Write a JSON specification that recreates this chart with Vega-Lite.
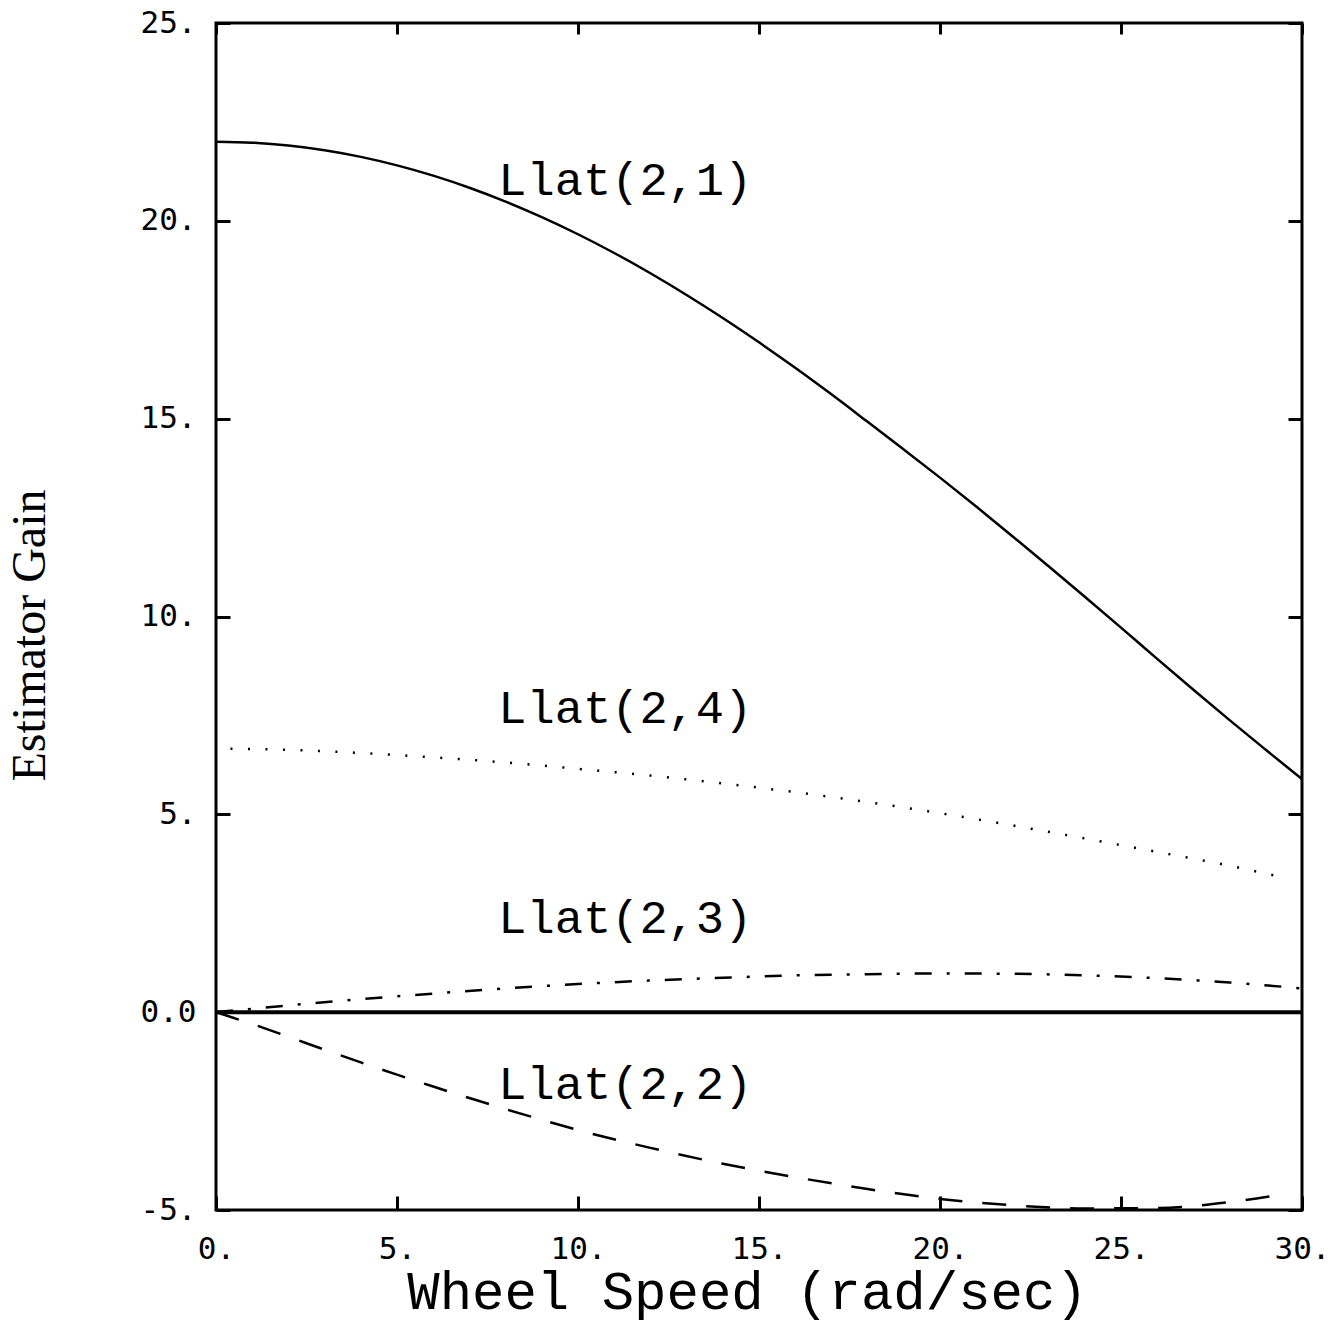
{
  "$schema": "https://vega.github.io/schema/vega-lite/v6.json",
  "width": 1086,
  "height": 1187,
  "autosize": {"type": "none"},
  "padding": {"left": 216, "top": 23, "right": 28, "bottom": 115},
  "background": "white",
  "config": {
    "view": {"stroke": "black", "strokeWidth": 3},
    "axis": {
      "domain": false, "grid": false, "tickColor": "black", "tickWidth": 3, "tickSize": -14,
      "labelFont": "DejaVu Sans Mono", "labelFontSize": 31, "labelColor": "black",
      "titleColor": "black", "labelOverlap": false, "labelBound": false, "labelFlush": false
    }
  },
  "datasets": {
    "curves": [
      {"series": "L21", "x": 0, "y": 22.0}, {"series": "L21", "x": 1, "y": 21.976}, {"series": "L21", "x": 2, "y": 21.904},
      {"series": "L21", "x": 3, "y": 21.784}, {"series": "L21", "x": 4, "y": 21.616}, {"series": "L21", "x": 5, "y": 21.402},
      {"series": "L21", "x": 6, "y": 21.142}, {"series": "L21", "x": 7, "y": 20.837}, {"series": "L21", "x": 8, "y": 20.487},
      {"series": "L21", "x": 9, "y": 20.095}, {"series": "L21", "x": 10, "y": 19.661}, {"series": "L21", "x": 11, "y": 19.187},
      {"series": "L21", "x": 12, "y": 18.675}, {"series": "L21", "x": 13, "y": 18.126}, {"series": "L21", "x": 14, "y": 17.544},
      {"series": "L21", "x": 15, "y": 16.929}, {"series": "L21", "x": 16, "y": 16.285}, {"series": "L21", "x": 17, "y": 15.614},
      {"series": "L21", "x": 18, "y": 14.92}, {"series": "L21", "x": 19, "y": 14.22}, {"series": "L21", "x": 20, "y": 13.51},
      {"series": "L21", "x": 21, "y": 12.78}, {"series": "L21", "x": 22, "y": 12.03}, {"series": "L21", "x": 23, "y": 11.27},
      {"series": "L21", "x": 24, "y": 10.5}, {"series": "L21", "x": 25, "y": 9.72}, {"series": "L21", "x": 26, "y": 8.93},
      {"series": "L21", "x": 27, "y": 8.15}, {"series": "L21", "x": 28, "y": 7.38}, {"series": "L21", "x": 29, "y": 6.63},
      {"series": "L21", "x": 30, "y": 5.89},
      {"series": "L24", "x": 0.4, "y": 6.66}, {"series": "L24", "x": 2, "y": 6.63}, {"series": "L24", "x": 4, "y": 6.55},
      {"series": "L24", "x": 6, "y": 6.44}, {"series": "L24", "x": 8, "y": 6.31}, {"series": "L24", "x": 10, "y": 6.15},
      {"series": "L24", "x": 12, "y": 5.98}, {"series": "L24", "x": 14, "y": 5.78}, {"series": "L24", "x": 16, "y": 5.56},
      {"series": "L24", "x": 18, "y": 5.31}, {"series": "L24", "x": 20, "y": 5.03}, {"series": "L24", "x": 22, "y": 4.72},
      {"series": "L24", "x": 24, "y": 4.39}, {"series": "L24", "x": 26, "y": 4.05}, {"series": "L24", "x": 28, "y": 3.7},
      {"series": "L24", "x": 29.6, "y": 3.38},
      {"series": "L23", "x": 0, "y": 0}, {"series": "L23", "x": 2, "y": 0.17}, {"series": "L23", "x": 4, "y": 0.33},
      {"series": "L23", "x": 6, "y": 0.47}, {"series": "L23", "x": 8, "y": 0.6}, {"series": "L23", "x": 10, "y": 0.71},
      {"series": "L23", "x": 12, "y": 0.8}, {"series": "L23", "x": 14, "y": 0.87}, {"series": "L23", "x": 16, "y": 0.93},
      {"series": "L23", "x": 18, "y": 0.96}, {"series": "L23", "x": 20, "y": 0.98}, {"series": "L23", "x": 22, "y": 0.97},
      {"series": "L23", "x": 24, "y": 0.93}, {"series": "L23", "x": 26, "y": 0.86}, {"series": "L23", "x": 28, "y": 0.75},
      {"series": "L23", "x": 30, "y": 0.6},
      {"series": "L22", "x": 0, "y": 0}, {"series": "L22", "x": 1, "y": -0.3}, {"series": "L22", "x": 2, "y": -0.62},
      {"series": "L22", "x": 3, "y": -0.95}, {"series": "L22", "x": 4, "y": -1.27}, {"series": "L22", "x": 5, "y": -1.58},
      {"series": "L22", "x": 6, "y": -1.88}, {"series": "L22", "x": 7, "y": -2.17}, {"series": "L22", "x": 8, "y": -2.45},
      {"series": "L22", "x": 9, "y": -2.72}, {"series": "L22", "x": 10, "y": -2.98}, {"series": "L22", "x": 12, "y": -3.43},
      {"series": "L22", "x": 14, "y": -3.83}, {"series": "L22", "x": 16, "y": -4.17}, {"series": "L22", "x": 18, "y": -4.47},
      {"series": "L22", "x": 20, "y": -4.72}, {"series": "L22", "x": 22, "y": -4.88}, {"series": "L22", "x": 24, "y": -4.96},
      {"series": "L22", "x": 26, "y": -4.95}, {"series": "L22", "x": 28, "y": -4.8}, {"series": "L22", "x": 29.5, "y": -4.6},
      {"series": "zero", "x": 0, "y": 0}, {"series": "zero", "x": 30, "y": 0}
    ],
    "labels": [
      {"x": 7.8, "y": 20.65, "label": "Llat(2,1)"},
      {"x": 7.8, "y": 7.3, "label": "Llat(2,4)"},
      {"x": 7.8, "y": 2.0, "label": "Llat(2,3)"},
      {"x": 7.8, "y": -2.2, "label": "Llat(2,2)"}
    ]
  },
  "resolve": {"axis": {"x": "independent", "y": "independent"}},
  "layer": [
    {
      "data": {"name": "curves"},
      "transform": [{"filter": "datum.series == 'L21'"}],
      "mark": {"type": "line", "color": "black", "strokeWidth": 2.5, "interpolate": "monotone"},
      "encoding": {
        "x": {"field": "x", "type": "quantitative", "scale": {"domain": [0, 30], "nice": false, "zero": false},
          "axis": {"orient": "bottom", "values": [0, 5, 10, 15, 20, 25, 30], "labelExpr": "datum.value + '.'",
            "labelPadding": 38, "labelBaseline": "top", "labelAlign": "center",
            "title": "Wheel Speed (rad/sec)", "titleFont": "Liberation Mono", "titleFontSize": 54, "titleFontWeight": "normal",
            "titleX": 531, "titleY": 98, "titleAlign": "center", "titleBaseline": "alphabetic"}},
        "y": {"field": "y", "type": "quantitative", "scale": {"domain": [-5, 25], "nice": false, "zero": false},
          "axis": {"orient": "left", "values": [-5, 0, 5, 10, 15, 20, 25],
            "labelExpr": "datum.value == 0 ? '0.0' : datum.value + '.'",
            "labelPadding": 34, "labelAlign": "right", "labelBaseline": "middle",
            "title": "Estimator Gain", "titleFont": "Liberation Serif", "titleFontSize": 48, "titleFontWeight": "normal",
            "titleX": -172, "titleY": 612, "titleAlign": "center", "titleBaseline": "alphabetic", "titleAngle": -90}}
      }
    },
    {
      "data": {"name": "curves"},
      "transform": [{"filter": "datum.series == 'zero'"}],
      "mark": {"type": "line", "color": "black", "strokeWidth": 4},
      "encoding": {
        "x": {"field": "x", "type": "quantitative",
          "axis": {"orient": "top", "values": [0, 5, 10, 15, 20, 25, 30], "labels": false, "title": null, "tickSize": -11}},
        "y": {"field": "y", "type": "quantitative",
          "axis": {"orient": "right", "values": [-5, 0, 5, 10, 15, 20, 25], "labels": false, "title": null}}
      }
    },
    {
      "data": {"name": "curves"},
      "transform": [{"filter": "datum.series == 'L24'"}],
      "mark": {"type": "line", "color": "black", "strokeWidth": 2.5, "strokeDash": [2, 15.5], "interpolate": "monotone"},
      "encoding": {"x": {"field": "x", "type": "quantitative", "axis": null}, "y": {"field": "y", "type": "quantitative", "axis": null}}
    },
    {
      "data": {"name": "curves"},
      "transform": [{"filter": "datum.series == 'L23'"}],
      "mark": {"type": "line", "color": "black", "strokeWidth": 2.5, "strokeDash": [17, 15, 3, 15], "interpolate": "monotone"},
      "encoding": {"x": {"field": "x", "type": "quantitative", "axis": null}, "y": {"field": "y", "type": "quantitative", "axis": null}}
    },
    {
      "data": {"name": "curves"},
      "transform": [{"filter": "datum.series == 'L22'"}],
      "mark": {"type": "line", "color": "black", "strokeWidth": 2.5, "strokeDash": [24, 20], "interpolate": "monotone"},
      "encoding": {"x": {"field": "x", "type": "quantitative", "axis": null}, "y": {"field": "y", "type": "quantitative", "axis": null}}
    },
    {
      "data": {"name": "labels"},
      "mark": {"type": "text", "color": "black", "font": "Liberation Mono", "fontSize": 47, "align": "left", "baseline": "alphabetic"},
      "encoding": {
        "x": {"field": "x", "type": "quantitative", "axis": null},
        "y": {"field": "y", "type": "quantitative", "axis": null},
        "text": {"field": "label"}
      }
    }
  ]
}
